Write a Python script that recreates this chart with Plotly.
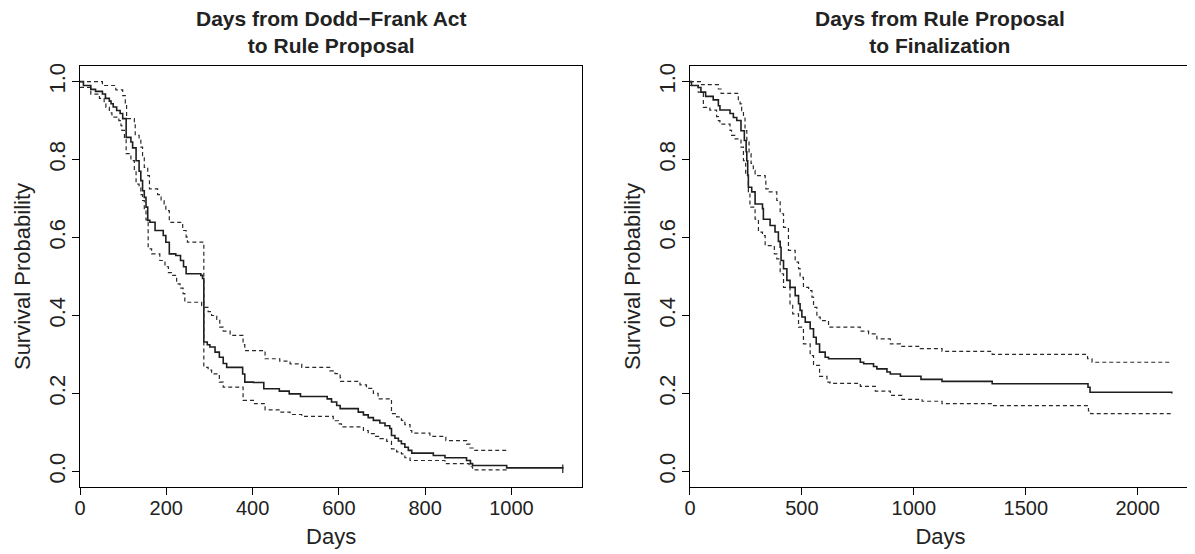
import plotly.graph_objects as go

# Kaplan-Meier curves (step times in days, survival after each step)

# left: Dodd-Frank Act -> rule proposal
left_days = [0, 8, 25, 36, 52, 59, 68, 72, 77, 85, 93, 99, 107, 118, 122, 130, 137, 141, 145, 149,
             153, 157, 162, 174, 193, 199, 207, 222, 233, 240, 246, 280, 284, 287, 295, 301, 313, 323,
             332, 340, 377, 382, 402, 426, 462, 485, 511, 573, 583, 595, 603, 645, 657, 668, 680, 695,
             707, 718, 722, 730, 738, 745, 753, 761, 769, 819, 846, 896, 905, 910, 989, 1119]
left_surv = [1.0, 0.99, 0.98, 0.975, 0.968, 0.957, 0.95, 0.943, 0.935, 0.926, 0.918, 0.905, 0.857,
             0.845, 0.83, 0.797, 0.77, 0.746, 0.72, 0.703, 0.678, 0.644, 0.639, 0.618, 0.605, 0.588,
             0.558, 0.554, 0.541, 0.525, 0.507, 0.503, 0.495, 0.332, 0.325, 0.319, 0.306, 0.293, 0.277,
             0.267, 0.25, 0.229, 0.228, 0.212, 0.206, 0.199, 0.192, 0.186, 0.178, 0.169, 0.161, 0.152,
             0.145, 0.138, 0.131, 0.124, 0.117, 0.11, 0.092, 0.085, 0.078, 0.071, 0.062, 0.054, 0.047,
             0.041, 0.035, 0.028, 0.02, 0.015, 0.009, 0.007]

left_up_days = [0, 52, 83, 99, 105, 108, 126, 128, 137, 141, 145, 149, 157, 161, 180, 188, 195, 199,
                207, 238, 246, 249, 287, 297, 305, 317, 324, 332, 348, 378, 382, 429, 463, 487, 514,
                579, 591, 603, 604, 649, 664, 680, 691, 720, 722, 734, 745, 753, 765, 769, 811, 848,
                896, 904, 911, 990]
left_up = [1.0, 0.99, 0.979, 0.964, 0.945, 0.905, 0.891, 0.862, 0.85, 0.832, 0.81, 0.78, 0.759,
           0.725, 0.71, 0.695, 0.68, 0.669, 0.639, 0.618, 0.601, 0.588, 0.421, 0.41, 0.4, 0.39, 0.37,
           0.36, 0.349, 0.325, 0.31, 0.289, 0.283, 0.276, 0.267, 0.258, 0.251, 0.24, 0.231, 0.222,
           0.213, 0.2, 0.186, 0.183, 0.148, 0.14, 0.131, 0.12, 0.105, 0.098, 0.09, 0.079, 0.07, 0.06,
           0.054, 0.052]

left_lo_days = [0, 25, 45, 56, 60, 68, 74, 90, 95, 97, 103, 107, 118, 126, 130, 137, 141, 145, 149,
                153, 158, 166, 185, 197, 205, 212, 224, 232, 239, 243, 282, 287, 297, 305, 323, 332,
                378, 402, 429, 463, 487, 514, 587, 599, 606, 657, 668, 684, 695, 711, 722, 734, 745,
                753, 765, 846, 902, 910, 990]
left_lo = [0.985, 0.968, 0.957, 0.943, 0.934, 0.92, 0.909, 0.9, 0.887, 0.875, 0.857, 0.815, 0.797,
           0.772, 0.737, 0.729, 0.71, 0.695, 0.67, 0.645, 0.571, 0.558, 0.541, 0.525, 0.51, 0.503,
           0.481, 0.47, 0.456, 0.434, 0.425, 0.267, 0.26, 0.25, 0.229, 0.216, 0.182, 0.174, 0.158,
           0.152, 0.146, 0.141, 0.13, 0.122, 0.114, 0.105, 0.097, 0.09, 0.084, 0.077, 0.058, 0.05,
           0.045, 0.035, 0.028, 0.02, 0.012, 0.004, 0.004]

# right: rule proposal -> finalization
right_days = [0, 7, 37, 49, 70, 104, 127, 134, 179, 194, 209, 228, 243, 251, 254, 258, 261, 276,
              291, 324, 328, 358, 380, 395, 403, 407, 418, 433, 447, 470, 485, 492, 500, 515, 537,
              552, 564, 579, 604, 619, 761, 776, 820, 835, 880, 895, 940, 1032, 1126, 1350, 1778,
              1787, 2152]
right_surv = [1.0, 0.99, 0.985, 0.973, 0.962, 0.953, 0.938, 0.927, 0.918, 0.908, 0.9, 0.874, 0.849,
              0.82, 0.797, 0.76, 0.729, 0.717, 0.686, 0.674, 0.647, 0.631, 0.614, 0.59, 0.575, 0.541,
              0.52, 0.49, 0.472, 0.451, 0.43, 0.413, 0.396, 0.383, 0.366, 0.344, 0.327, 0.306, 0.293,
              0.289, 0.28, 0.276, 0.269, 0.263, 0.255, 0.25, 0.244, 0.236, 0.231, 0.225, 0.216, 0.203,
              0.2]

right_up_days = [0, 52, 127, 139, 216, 224, 231, 239, 246, 254, 264, 273, 283, 291, 336, 339, 350,
                 388, 403, 418, 440, 470, 485, 492, 507, 530, 545, 552, 567, 582, 619, 761, 798, 835,
                 895, 940, 1029, 1126, 1350, 1776, 1796, 2152]
right_up = [1.0, 0.992, 0.981, 0.97, 0.951, 0.943, 0.925, 0.908, 0.874, 0.85, 0.815, 0.79, 0.772,
            0.759, 0.745, 0.725, 0.717, 0.695, 0.661, 0.626, 0.567, 0.537, 0.52, 0.498, 0.472, 0.464,
            0.447, 0.421, 0.396, 0.387, 0.37, 0.36, 0.353, 0.34, 0.327, 0.321, 0.315, 0.308, 0.3,
            0.289, 0.28, 0.28]

right_lo_days = [0, 37, 60, 89, 119, 127, 134, 179, 186, 201, 228, 239, 249, 261, 268, 291, 306,
                 324, 336, 377, 388, 403, 418, 447, 459, 485, 507, 537, 552, 579, 612, 626, 761, 828,
                 895, 947, 1037, 1126, 1350, 1780, 1790, 2152]
right_lo = [0.99, 0.973, 0.934, 0.927, 0.91, 0.9, 0.891, 0.875, 0.862, 0.853, 0.832, 0.797, 0.759,
            0.717, 0.678, 0.647, 0.614, 0.605, 0.579, 0.558, 0.545, 0.507, 0.472, 0.43, 0.404, 0.37,
            0.327, 0.297, 0.272, 0.244, 0.229, 0.226, 0.218, 0.206, 0.195, 0.185, 0.18, 0.174, 0.169,
            0.155, 0.148, 0.146]

titles = ["Days from Dodd\u2212Frank Act<br>to Rule Proposal",
          "Days from Rule Proposal<br>to Finalization"]
y_ticks = [0.0, 0.2, 0.4, 0.6, 0.8, 1.0]
left_xticks = [0, 200, 400, 600, 800, 1000]
right_xticks = [0, 500, 1000, 1500, 2000]

FONT = "Liberation Sans, Arial, Helvetica, sans-serif"
INK = "#1e1e1e"
solid = dict(color=INK, width=1.6, shape="hv")
dashed = dict(color="#2a2a2a", width=1.2, dash="4px,3px", shape="hv")

fig = go.Figure()

# left panel
fig.add_trace(go.Scatter(x=left_days, y=left_surv, mode="lines", line=solid, xaxis="x", yaxis="y"))
fig.add_trace(go.Scatter(x=left_up_days, y=left_up, mode="lines", line=dashed, xaxis="x", yaxis="y"))
fig.add_trace(go.Scatter(x=left_lo_days, y=left_lo, mode="lines", line=dashed, xaxis="x", yaxis="y"))
# censor mark at the end of the left curve
fig.add_trace(go.Scatter(x=left_days[-1:], y=left_surv[-1:], mode="markers",
                         marker=dict(symbol="line-ns-open", size=6, color=INK,
                                     line=dict(color=INK, width=1.2)),
                         xaxis="x", yaxis="y"))

# right panel
fig.add_trace(go.Scatter(x=right_days, y=right_surv, mode="lines", line=solid, xaxis="x2", yaxis="y2"))
fig.add_trace(go.Scatter(x=right_up_days, y=right_up, mode="lines", line=dashed, xaxis="x2", yaxis="y2"))
fig.add_trace(go.Scatter(x=right_lo_days, y=right_lo, mode="lines", line=dashed, xaxis="x2", yaxis="y2"))

axis_common = dict(showline=True, linecolor="black", linewidth=1.3, mirror=True,
                   ticks="outside", ticklen=7, tickwidth=1.2, tickcolor="black",
                   showgrid=False, zeroline=False)
xfont = dict(family=FONT, size=20, color="#222")
yfont = dict(family=FONT, size=22, color="#222")
tfont = dict(family=FONT, size=22, color="#222")

fig.update_layout(
    width=1195, height=554,
    plot_bgcolor="white", paper_bgcolor="white",
    showlegend=False,
    margin=dict(l=72, r=12, t=58, b=75),
    font=dict(family=FONT, color="#222"),
    xaxis=dict(axis_common, domain=[0, 0.452], range=[0, 1164], tickvals=left_xticks,
               tickfont=xfont, ticklabelstandoff=-4,
               title=dict(text="Days", font=tfont, standoff=10)),
    yaxis=dict(axis_common, range=[-0.04, 1.04], tickvals=y_ticks, tickformat=".1f", tickangle=-90,
               tickfont=yfont, ticklabelstandoff=-2,
               title=dict(text="Survival Probability", font=tfont, standoff=8)),
    xaxis2=dict(axis_common, domain=[0.549, 1.0], range=[0, 2238], tickvals=right_xticks,
                tickfont=xfont, ticklabelstandoff=-4, anchor="y2",
                title=dict(text="Days", font=tfont, standoff=10)),
    yaxis2=dict(axis_common, anchor="x2", range=[-0.04, 1.04], tickvals=y_ticks, tickformat=".1f",
                tickangle=-90, tickfont=yfont, ticklabelstandoff=-2,
                title=dict(text="Survival Probability", font=tfont, standoff=8)),
)

for i, t in enumerate(titles):
    fig.add_annotation(text="<b>" + t + "</b>", x=[0.226, 0.7745][i], y=1, xref="paper", yref="paper",
                       xanchor="center", yanchor="bottom", yshift=7, showarrow=False,
                       font=dict(family=FONT, size=21, color="#222"))

fig.write_html("out.html")
